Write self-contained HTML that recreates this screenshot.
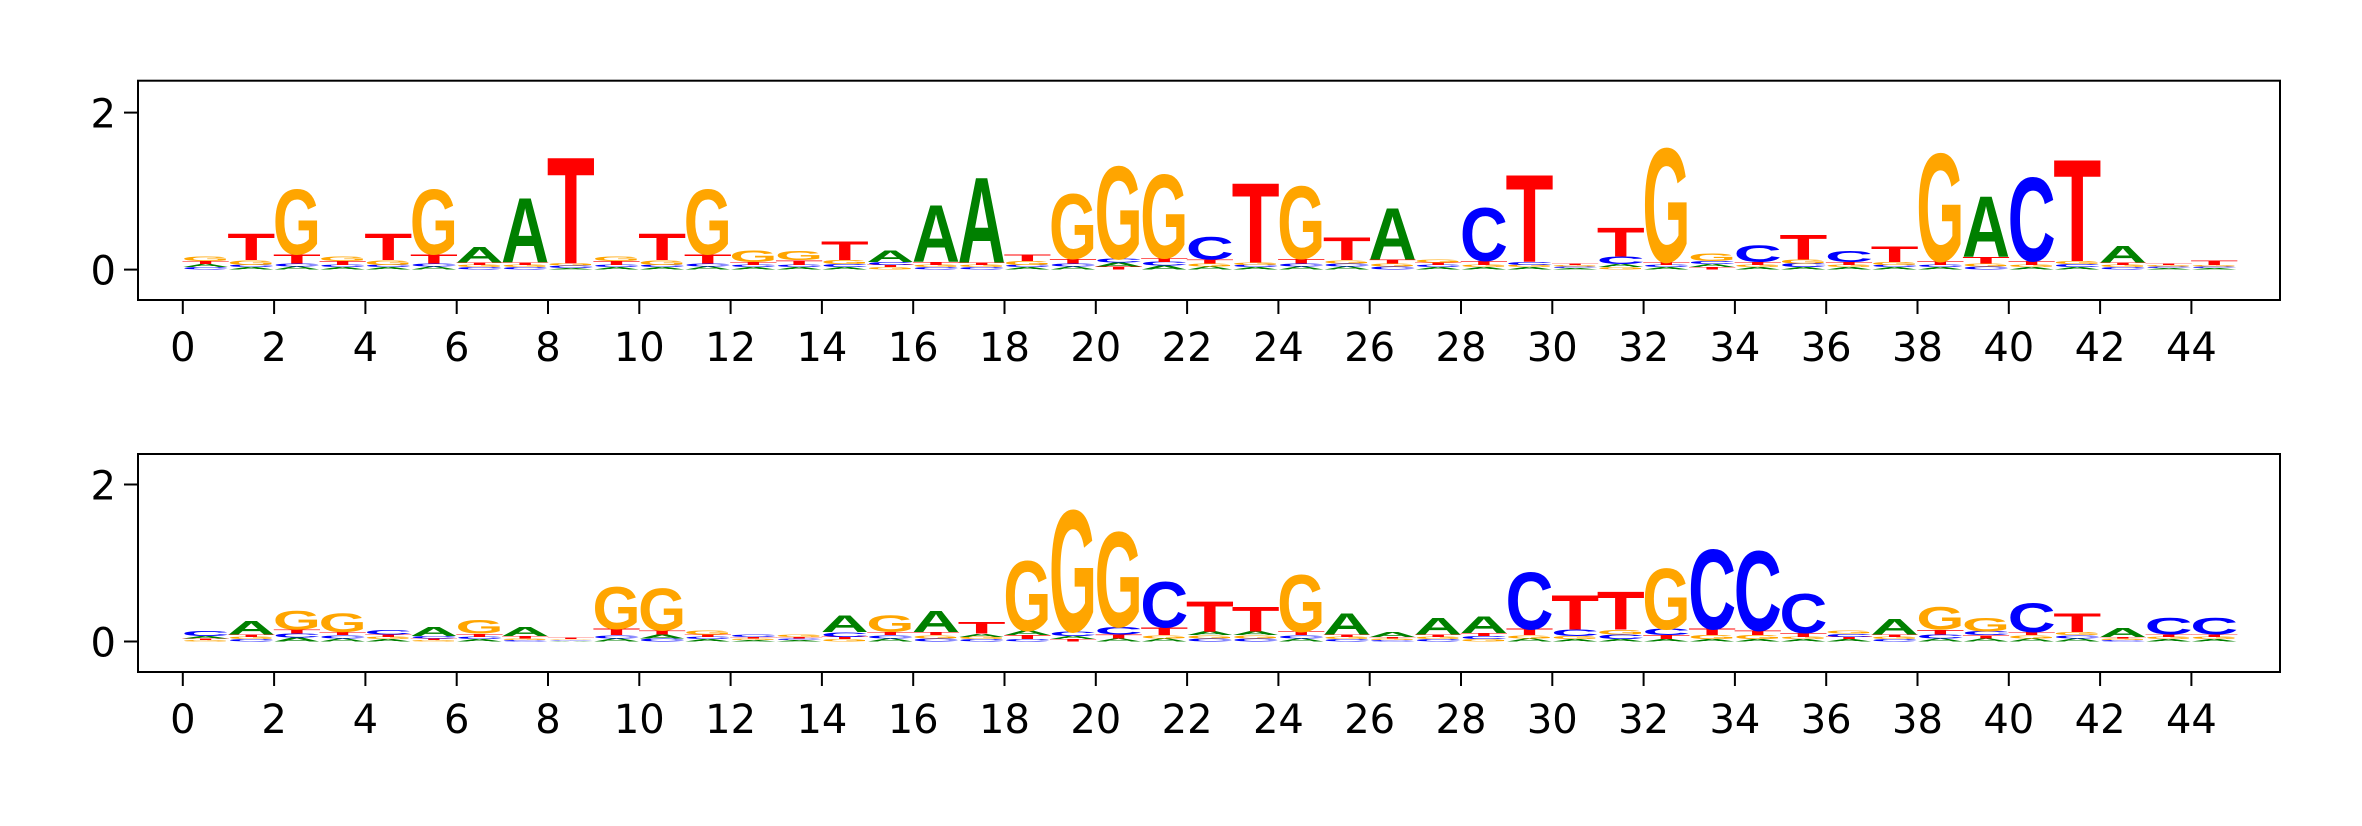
<!DOCTYPE html>
<html><head><meta charset="utf-8"><style>
html,body{margin:0;padding:0;background:#fff;}
svg{display:block;}
</style></head><body>
<svg id="chart" width="2362" height="826" viewBox="0 0 2362 826" xmlns="http://www.w3.org/2000/svg">
<rect width="2362" height="826" fill="#fff"/>
</svg>
<script>
const letters = ["A","C","G","T"];
const colors = {A:"#008000",C:"#0000ff",G:"#ffa500",T:"#ff0000"};
const xTicks = [0,2,4,6,8,10,12,14,16,18,20,22,24,26,28,30,32,34,36,38,40,42,44];
const yTicks = [0,2];
// top panel
const topA = [.04,.03,.04,.03,.03,.04,.2,.85,.02,.03,.03,.04,.03,.03,.03,.15,.75,1.12,.03,.04,.05,.05,.04,.03,.04,.04,.68,.03,.03,.03,.02,.04,.03,.04,.03,.03,.03,.03,.03,.8,.03,.03,.22,.02,.02];
const topC = [.03,.03,.04,.03,.03,.04,.03,.03,.03,.03,.03,.04,.03,.03,.04,.04,.03,.03,.03,.04,.05,.05,.3,.03,.04,.04,.04,.03,.7,.04,.02,.1,.03,.04,.22,.05,.14,.03,.03,.04,1.1,.04,.03,.02,.02];
const topG = [.06,.06,.85,.06,.06,.85,.03,.03,.03,.06,.06,.85,.15,.12,.05,.03,.03,.03,.05,.85,1.22,1.1,.04,.03,.95,.04,.04,.04,.03,.03,.02,.03,1.5,.1,.03,.05,.03,.04,1.42,.04,.03,.04,.03,.02,.02];
const topT = [.04,.35,.12,.05,.35,.12,.03,.03,1.4,.05,.35,.12,.04,.06,.25,.03,.04,.03,.08,.06,.04,.05,.05,1.05,.06,.3,.05,.03,.05,1.15,.02,.38,.04,.03,.04,.32,.04,.2,.05,.08,.05,1.34,.03,.02,.06];
// bottom panel
const botA = [.03,.18,.05,.04,.03,.12,.03,.12,.01,.04,.05,.03,.02,.02,.22,.04,.28,.04,.06,.04,.04,.04,.05,.05,.04,.28,.07,.22,.22,.04,.03,.03,.03,.03,.03,.03,.03,.2,.04,.04,.04,.04,.12,.03,.03];
const botC = [.07,.03,.05,.04,.06,.03,.03,.02,.01,.04,.04,.03,.03,.02,.06,.04,.04,.03,.03,.06,.1,.6,.04,.04,.04,.03,.02,.03,.04,.75,.08,.06,.08,1.05,1.05,.52,.04,.03,.05,.05,.38,.04,.02,.22,.22];
const botG = [.02,.03,.25,.25,.03,.02,.18,.02,.01,.55,.55,.05,.02,.03,.03,.22,.04,.03,.92,1.6,1.25,.04,.04,.04,.75,.03,.02,.03,.03,.04,.04,.06,.8,.05,.05,.03,.04,.03,.3,.18,.04,.04,.02,.03,.03];
const botT = [.02,.03,.05,.04,.03,.02,.04,.03,.02,.08,.05,.03,.02,.02,.03,.04,.04,.15,.05,.03,.05,.1,.4,.32,.05,.03,.02,.03,.04,.08,.45,.5,.05,.08,.06,.05,.03,.03,.06,.04,.04,.25,.02,.03,.03];

const NS = "http://www.w3.org/2000/svg";
const svg = document.getElementById("chart");
function mk(tag, attrs, parent){
  const e = document.createElementNS(NS, tag);
  for (const k in attrs) e.setAttribute(k, attrs[k]);
  (parent||svg).appendChild(e);
  return e;
}
const X0 = 182.8, XU = 45.65, LEFT = 138, RIGHT = 2280;
function xs(v){ return X0 + v*XU; }

function panel(name, top, bottom, y0, yu, A, C, G, T){
  const ys = v => y0 - v*yu;
  const g = mk("g", {});
  
  
  const clip = mk("clipPath", {id: name+"-clip"}, g);
  mk("rect", {x:LEFT, y:top, width:RIGHT-LEFT, height:bottom-top}, clip);
  const marks = mk("g", {"clip-path":"url(#"+name+"-clip)"}, g);
  const vals = {A:A, C:C, G:G, T:T};
  const W = 48;
  for (let i = 0; i < A.length; i++){
    const col = mk("g", {}, marks);
    
    
    const order = letters.slice().sort((a,b)=>vals[a][i]-vals[b][i]);
    let base = 0;
    for (const L of order){
      const h = vals[L][i];
      const ybot = ys(base), ytop = ys(base+h);
      const ph = ybot - ytop;
      const cx = xs(i + 0.5);
      const t = mk("text", {
        x: 0, y: 0, "font-family":"'Liberation Sans', sans-serif", "font-weight":"bold",
        "font-size":100, fill: colors[L], textLength: W, lengthAdjust:"spacingAndGlyphs",
        transform: "translate(" + (cx - W/2) + "," + ybot + ") scale(1," + (ph/72) + ")"
      }, col);
      
      
      t.textContent = L;
      base += h;
    }
  }
  const frame = mk("rect", {x:LEFT, y:top, width:RIGHT-LEFT, height:bottom-top, fill:"none", stroke:"#000", "stroke-width":2}, g);
  
  
  const xa = mk("g", {}, g);
  
  
  for (const v of xTicks){
    mk("line", {x1:xs(v), x2:xs(v), y1:bottom, y2:bottom+14, stroke:"#000", "stroke-width":2}, xa);
    const tl = mk("text", {x:xs(v), y:bottom+61, "text-anchor":"middle", "font-family":"'DejaVu Sans', sans-serif", "font-size":40, fill:"#000"}, xa);
    
    
    tl.textContent = v;
  }
  const ya = mk("g", {}, g);
  
  
  for (const v of yTicks){
    mk("line", {x1:LEFT-14, x2:LEFT, y1:ys(v), y2:ys(v), stroke:"#000", "stroke-width":2}, ya);
    const tl = mk("text", {x:LEFT-22, y:ys(v)+15, "text-anchor":"end", "font-family":"'DejaVu Sans', sans-serif", "font-size":40, fill:"#000"}, ya);
    
    
    tl.textContent = v;
  }
}
panel("top-logo-panel", 80.7, 300, 269.6, 78.5, topA, topC, topG, topT);
panel("bottom-logo-panel", 454, 672, 641.5, 78.5, botA, botC, botG, botT);
</script>
</body></html>
